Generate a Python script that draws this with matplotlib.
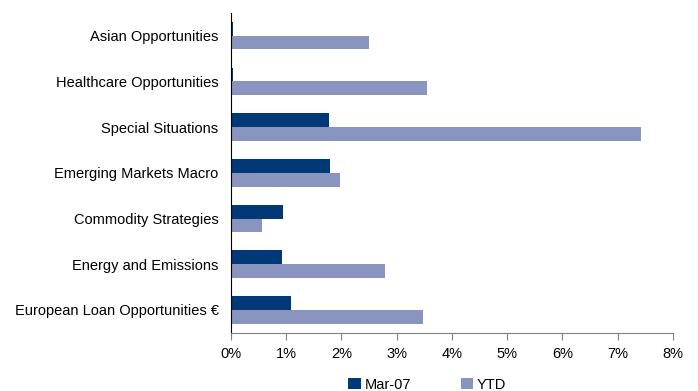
import numpy as np
import matplotlib
matplotlib.use("Agg")
import matplotlib.pyplot as plt
from matplotlib.ticker import FuncFormatter

plt.rcParams["font.family"] = ["Liberation Sans", "DejaVu Sans"]

# datos (en %)
categories = ["Asian Opportunities", "Healthcare Opportunities", "Special Situations",
              "Emerging Markets Macro", "Commodity Strategies", "Energy and Emissions",
              "European Loan Opportunities €"]
mar07 = [0.03, 0.04, 1.77, 1.79, 0.94, 0.92, 1.08]
ytd = [2.50, 3.54, 7.43, 1.97, 0.56, 2.78, 3.47]
xticks = [0, 1, 2, 3, 4, 5, 6, 7, 8]

NAVY = "#003878"
LAV = "#8a95bf"
FS = 10.5

fig = plt.figure(figsize=(6.98, 3.91), dpi=100)
ax = fig.add_axes([0.331, 0.149, 0.633, 0.818])

y = np.arange(len(categories))[::-1]
h = 0.3
ax.barh(y + h / 2, mar07, height=h, color=NAVY, label="Mar-07")
ax.barh(y - h / 2, ytd, height=h, color=LAV, label="YTD")

ax.set_ylim(-0.5, len(categories) - 0.5)
ax.set_yticks(y)
ax.set_yticklabels(categories, fontsize=FS)
ax.tick_params(axis="y", length=0, pad=9)

ax.set_xlim(0, 8)
ax.set_xticks(xticks)
ax.xaxis.set_major_formatter(FuncFormatter(lambda v, p: f"{v:.0f}%"))
ax.tick_params(axis="x", labelsize=FS, direction="out", length=5, color="#808080", pad=5)

for s in ["top", "right"]:
    ax.spines[s].set_visible(False)
ax.spines["bottom"].set_color("#808080")
ax.spines["left"].set_color("black")

leg = fig.legend(loc="lower center", bbox_to_anchor=(0.612, -0.035), ncol=2, frameon=False,
                 fontsize=FS, handlelength=0.85, handleheight=0.85, handletextpad=0.25,
                 columnspacing=3.4)

fig.savefig("out.png", dpi=100)
